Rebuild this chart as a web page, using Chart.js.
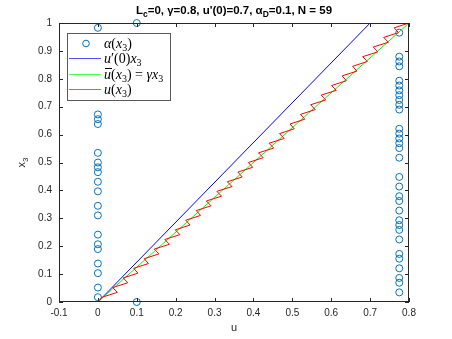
<!DOCTYPE html>
<html>
<head>
<meta charset="utf-8">
<script src="https://cdn.jsdelivr.net/npm/chart.js@4.4.0/dist/chart.umd.min.js"></script>
<style>
  html, body { margin: 0; padding: 0; background: #fff; }
  #wrap { width: 452px; height: 339px; }
</style>
</head>
<body>
<div id="wrap"><canvas id="c" width="452" height="339"></canvas></div>
<script>
// layer positions x3 (N = 59)
const x3Grid = [0, 0.0172, 0.0345, 0.0517, 0.0690, 0.0862, 0.1034, 0.1207, 0.1379, 0.1552,
  0.1724, 0.1897, 0.2069, 0.2241, 0.2414, 0.2586, 0.2759, 0.2931, 0.3103, 0.3276,
  0.3448, 0.3621, 0.3793, 0.3966, 0.4138, 0.4310, 0.4483, 0.4655, 0.4828, 0.5000,
  0.5172, 0.5345, 0.5517, 0.5690, 0.5862, 0.6034, 0.6207, 0.6379, 0.6552, 0.6724,
  0.6897, 0.7069, 0.7241, 0.7414, 0.7586, 0.7759, 0.7931, 0.8103, 0.8276, 0.8448,
  0.8621, 0.8793, 0.8966, 0.9138, 0.9310, 0.9483, 0.9655, 0.9828, 1];

// alpha(x3)
const alphaVals = [0.1, 0, 0.775, 0, 0.775, 0.775, 0, 0.775, 0, 0.775,
  0.775, 0, 0, 0.775, 0, 0.775, 0.775, 0.775, 0, 0.775,
  0, 0.775, 0.775, 0, 0.775, 0, 0.775, 0, 0, 0,
  0.775, 0, 0.775, 0.775, 0.775, 0.775, 0.775, 0, 0, 0,
  0.775, 0.775, 0.775, 0.775, 0.775, 0.775, 0.775, 0, 0, 0.775,
  0.775, 0.775, 0, 0, 0, 0, 0.775, 0, 0.1];

// u(x3), sawtooth
const redU = [0, 0.011, 0.050, 0.038, 0.077, 0.065, 0.103, 0.092, 0.130, 0.119,
  0.157, 0.145, 0.184, 0.172, 0.211, 0.199, 0.237, 0.226, 0.264, 0.253,
  0.291, 0.279, 0.318, 0.306, 0.345, 0.333, 0.371, 0.360, 0.398, 0.387,
  0.425, 0.413, 0.452, 0.440, 0.479, 0.467, 0.505, 0.494, 0.532, 0.521,
  0.559, 0.547, 0.586, 0.574, 0.613, 0.601, 0.639, 0.628, 0.666, 0.655,
  0.693, 0.681, 0.720, 0.708, 0.747, 0.735, 0.773, 0.762, 0.800];

const lineX3 = [0, 1];
const blueU = [0, 0.7];   // u'(0) x3
const greenU = [0, 0.8];  // gamma x3

const xTicks = [-0.1, 0, 0.1, 0.2, 0.3, 0.4, 0.5, 0.6, 0.7, 0.8];
const yTicks = [0, 0.1, 0.2, 0.3, 0.4, 0.5, 0.6, 0.7, 0.8, 0.9, 1];

const axisCol = '#262626';
const sans = '"Liberation Sans", Arial, sans-serif';
const serif = '"Liberation Serif", "Times New Roman", serif';

const pts = (us, ys) => us.map((u, i) => ({ x: u, y: ys[i] }));
const fmtTick = v => String(Number(v.toFixed(1)));

// rich text: parts = [text, font, dy, overline]
function drawRich(ctx, parts, x, y, align) {
  let w = 0;
  parts.forEach(p => { ctx.font = p[1]; w += ctx.measureText(p[0]).width; });
  let cx = align === 'center' ? x - w / 2 : x;
  parts.forEach(p => {
    ctx.font = p[1];
    const pw = ctx.measureText(p[0]).width;
    ctx.fillText(p[0], cx, y + (p[2] || 0));
    if (p[3]) {
      ctx.fillRect(cx + 1, y - 11, pw, 1);
    }
    cx += pw;
  });
  return w;
}

const decor = {
  id: 'decor',
  afterDraw(chart) {
    const ctx = chart.ctx;
    const a = chart.chartArea;
    const sx = chart.scales.x, sy = chart.scales.y;
    ctx.save();
    ctx.strokeStyle = axisCol;
    ctx.lineWidth = 1;
    // box
    ctx.strokeRect(Math.round(a.left) + 0.5, Math.round(a.top) + 0.5,
      Math.round(a.right - a.left) - 1, Math.round(a.bottom - a.top) - 1);
    // inward ticks
    const tl = 4;
    ctx.beginPath();
    xTicks.forEach(v => {
      const px = Math.round(sx.getPixelForValue(v)) + 0.5;
      ctx.moveTo(px, a.bottom); ctx.lineTo(px, a.bottom - tl);
      ctx.moveTo(px, a.top); ctx.lineTo(px, a.top + tl);
    });
    yTicks.forEach(v => {
      const py = Math.round(sy.getPixelForValue(v)) + 0.5;
      ctx.moveTo(a.left, py); ctx.lineTo(a.left + tl, py);
      ctx.moveTo(a.right, py); ctx.lineTo(a.right - tl, py);
    });
    ctx.stroke();

    // title
    ctx.fillStyle = '#000';
    ctx.textBaseline = 'alphabetic';
    const tf = 'bold 11.5px ' + sans, sf = 'bold 8.5px ' + sans;
    drawRich(ctx, [['L', tf], ['c', sf, 3], ['=0, \u03b3=0.8, u\'(0)=0.7, \u03b1', tf], ['D', sf, 3], ['=0.1, N = 59', tf]],
      (a.left + a.right) / 2, 14, 'center');

    // axis labels
    ctx.fillStyle = axisCol;
    drawRich(ctx, [['u', '11px ' + sans]], (a.left + a.right) / 2, 331, 'center');
    ctx.save();
    ctx.translate(25, (a.top + a.bottom) / 2);
    ctx.rotate(-Math.PI / 2);
    drawRich(ctx, [['x', '11px ' + sans], ['3', '8px ' + sans, 3]], 0, 0, 'center');
    ctx.restore();

    // legend
    const lx = 67.5, ly = 33.5, lw = 103, lh = 67;
    ctx.fillStyle = '#fff';
    ctx.fillRect(lx, ly, lw, lh);
    ctx.strokeStyle = '#5a5a5a';
    ctx.lineWidth = 1;
    ctx.strokeRect(lx, ly, lw, lh);
    const rows = [43, 58, 74, 89];
    const it = 'italic 14px ' + serif, rm = '14px ' + serif, sb = '10px ' + serif;
    ctx.strokeStyle = '#0072BD';
    ctx.beginPath(); ctx.arc(86, rows[0] + 0.5, 3.3, 0, Math.PI * 2); ctx.stroke();
    const legendCols = ['#5050ff', '#50ff50', '#ff5050'];
    legendCols.forEach((c, k) => {
      ctx.fillStyle = c;
      ctx.fillRect(69, rows[k + 1], 32, 1);
    });
    ctx.fillStyle = '#000';
    const tx = 104, by = 5;
    drawRich(ctx, [['\u03b1', it], ['(', rm], ['x', it], ['3', sb, 3], [')', rm]], tx, rows[0] + by);
    drawRich(ctx, [['u', it], ['\u2032', rm], ['(0)', rm], ['x', it], ['3', sb, 3]], tx, rows[1] + by);
    drawRich(ctx, [['u', it, 0, true], ['(', rm], ['x', it], ['3', sb, 3], [') = ', rm], ['\u03b3x', it], ['3', sb, 3]], tx, rows[2] + by);
    drawRich(ctx, [['u', it], ['(', rm], ['x', it], ['3', sb, 3], [')', rm]], tx, rows[3] + by);
    ctx.restore();
  }
};

new Chart(document.getElementById('c'), {
  type: 'scatter',
  data: {
    datasets: [
      {
        label: 'u(x3)', data: pts(redU, x3Grid), showLine: true, order: 0,
        borderColor: '#ff0000', borderWidth: 1, pointRadius: 0, fill: false, tension: 0
      },
      {
        label: 'ubar', data: pts(greenU, lineX3), showLine: true, order: 1,
        borderColor: '#00ff00', borderWidth: 1, pointRadius: 0, fill: false
      },
      {
        label: "u'(0)x3", data: pts(blueU, lineX3), showLine: true, order: 2,
        borderColor: '#0000ff', borderWidth: 1, pointRadius: 0, fill: false
      },
      {
        label: 'alpha', data: pts(alphaVals, x3Grid), showLine: false, order: 3, clip: false,
        pointStyle: 'circle', pointRadius: 3.5, pointBorderWidth: 1,
        pointBorderColor: '#0072BD', pointBackgroundColor: 'rgba(0,0,0,0)'
      }
    ]
  },
  options: {
    responsive: false,
    animation: false,
    devicePixelRatio: 1,
    layout: { padding: { top: 23, right: 43, left: 0, bottom: 0 } },
    plugins: { legend: { display: false }, tooltip: { enabled: false }, title: { display: false } },
    scales: {
      x: {
        type: 'linear', min: -0.1, max: 0.8,
        afterBuildTicks: s => { s.ticks = xTicks.map(v => ({ value: v })); },
        afterFit: s => { s.height = 37; },
        grid: { display: false, drawTicks: false },
        border: { display: false },
        ticks: { padding: 5, color: axisCol, font: { family: sans, size: 10 }, callback: fmtTick, maxRotation: 0, autoSkip: false }
      },
      y: {
        type: 'linear', min: 0, max: 1,
        afterBuildTicks: s => { s.ticks = yTicks.map(v => ({ value: v })); },
        afterFit: s => { s.width = 59; },
        grid: { display: false, drawTicks: false },
        border: { display: false },
        ticks: { padding: 7, color: axisCol, font: { family: sans, size: 10 }, callback: fmtTick, autoSkip: false }
      }
    }
  },
  plugins: [decor]
});
</script>
</body>
</html>
